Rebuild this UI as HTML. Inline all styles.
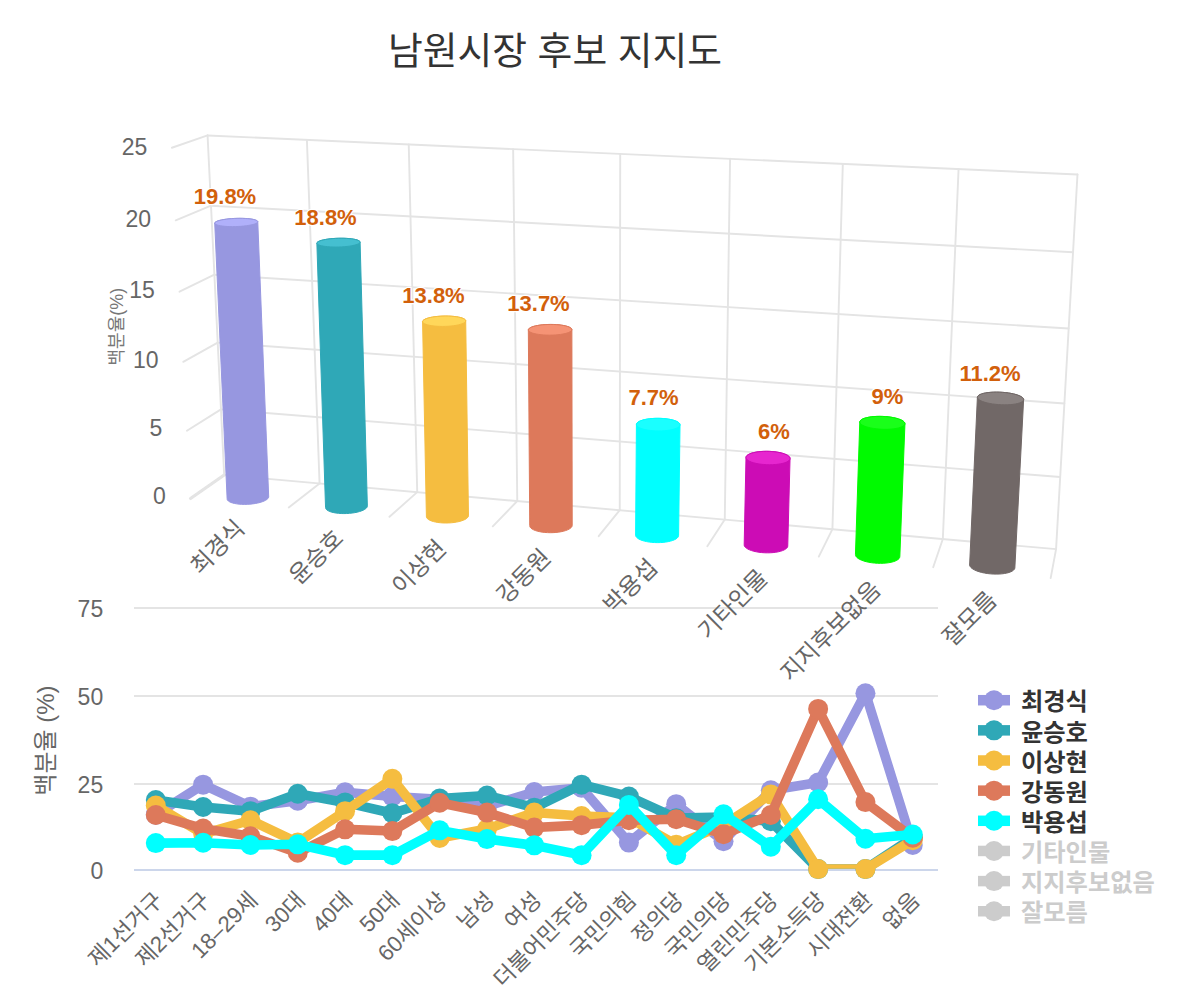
<!DOCTYPE html>
<html><head><meta charset="utf-8"><title>남원시장 후보 지지도</title>
<style>html,body{margin:0;padding:0;background:#fff;font-family:"Liberation Sans",sans-serif}svg{display:block}svg text{font-family:"Liberation Sans","Noto Sans CJK KR",sans-serif}</style>
</head><body>
<svg width="1200" height="1000" viewBox="0 0 1200 1000">
<rect width="1200" height="1000" fill="#fff"/>
<text x="555" y="63.5" font-size="37.8" fill="#333" text-anchor="middle">남원시장 후보 지지도</text>
<path d="M134 608H938" stroke="#e4e4e4" stroke-width="2"/>
<path d="M134 696H938" stroke="#e4e4e4" stroke-width="2"/>
<path d="M134 784H938" stroke="#e4e4e4" stroke-width="2"/>
<path d="M134 870H938" stroke="#ccd6eb" stroke-width="2"/>
<g>
<path d="M207.57 135.46L1077.48 174.43" stroke="#e4e4e4" stroke-width="1.9" fill="none" stroke-linecap="round"/>
<path d="M171.88 147.75L207.57 135.46" stroke="#e4e4e4" stroke-width="1.9" fill="none" stroke-linecap="round"/>
<path d="M211 205.68L1073.02 252.23" stroke="#e4e4e4" stroke-width="1.9" fill="none" stroke-linecap="round"/>
<path d="M175.74 220.37L211 205.68" stroke="#e4e4e4" stroke-width="1.9" fill="none" stroke-linecap="round"/>
<path d="M214.38 274.71L1068.65 328.56" stroke="#e4e4e4" stroke-width="1.9" fill="none" stroke-linecap="round"/>
<path d="M179.53 291.72L214.38 274.71" stroke="#e4e4e4" stroke-width="1.9" fill="none" stroke-linecap="round"/>
<path d="M217.7 342.58L1064.38 403.47" stroke="#e4e4e4" stroke-width="1.9" fill="none" stroke-linecap="round"/>
<path d="M183.26 361.83L217.7 342.58" stroke="#e4e4e4" stroke-width="1.9" fill="none" stroke-linecap="round"/>
<path d="M220.97 409.33L1060.19 476.99" stroke="#e4e4e4" stroke-width="1.9" fill="none" stroke-linecap="round"/>
<path d="M186.92 430.73L220.97 409.33" stroke="#e4e4e4" stroke-width="1.9" fill="none" stroke-linecap="round"/>
<path d="M224.19 474.97L1056.07 549.17" stroke="#e4e4e4" stroke-width="1.9" fill="none" stroke-linecap="round"/>
<path d="M190.52 498.45L224.19 474.97" stroke="#e4e4e4" stroke-width="3.2" fill="none" stroke-linecap="round"/>
<path d="M207.57 135.46L224.19 474.97" stroke="#e4e4e4" stroke-width="1.9" fill="none" stroke-linecap="round"/>
<path d="M224.19 474.97L190.52 498.45" stroke="#e4e4e4" stroke-width="1.9" fill="none" stroke-linecap="round"/>
<path d="M306.9 139.89L319.57 483.43" stroke="#e4e4e4" stroke-width="1.9" fill="none" stroke-linecap="round"/>
<path d="M319.57 483.43L288.73 507.51" stroke="#e4e4e4" stroke-width="1.9" fill="none" stroke-linecap="round"/>
<path d="M408.73 144.43L417.23 492.11" stroke="#e4e4e4" stroke-width="1.9" fill="none" stroke-linecap="round"/>
<path d="M417.23 492.11L389.49 516.82" stroke="#e4e4e4" stroke-width="1.9" fill="none" stroke-linecap="round"/>
<path d="M513.14 149.1L517.27 501.02" stroke="#e4e4e4" stroke-width="1.9" fill="none" stroke-linecap="round"/>
<path d="M517.27 501.02L492.78 526.36" stroke="#e4e4e4" stroke-width="1.9" fill="none" stroke-linecap="round"/>
<path d="M620.22 153.89L619.75 510.15" stroke="#e4e4e4" stroke-width="1.9" fill="none" stroke-linecap="round"/>
<path d="M619.75 510.15L598.69 536.17" stroke="#e4e4e4" stroke-width="1.9" fill="none" stroke-linecap="round"/>
<path d="M730.07 158.82L724.77 519.52" stroke="#e4e4e4" stroke-width="1.9" fill="none" stroke-linecap="round"/>
<path d="M724.77 519.52L707.32 546.24" stroke="#e4e4e4" stroke-width="1.9" fill="none" stroke-linecap="round"/>
<path d="M842.82 163.88L832.43 529.14" stroke="#e4e4e4" stroke-width="1.9" fill="none" stroke-linecap="round"/>
<path d="M832.43 529.14L818.79 556.59" stroke="#e4e4e4" stroke-width="1.9" fill="none" stroke-linecap="round"/>
<path d="M958.57 169.08L942.83 539.02" stroke="#e4e4e4" stroke-width="1.9" fill="none" stroke-linecap="round"/>
<path d="M942.83 539.02L933.2 567.22" stroke="#e4e4e4" stroke-width="1.9" fill="none" stroke-linecap="round"/>
<path d="M1077.48 174.43L1056.07 549.17" stroke="#e4e4e4" stroke-width="1.9" fill="none" stroke-linecap="round"/>
<path d="M1056.07 549.17L1050.67 578.16" stroke="#e4e4e4" stroke-width="1.9" fill="none" stroke-linecap="round"/>
</g>
<text x="147.28" y="154.65" font-size="23" fill="#666" text-anchor="end">25</text>
<text x="151.14" y="226.93" font-size="23" fill="#666" text-anchor="end">20</text>
<text x="154.93" y="297.94" font-size="23" fill="#666" text-anchor="end">15</text>
<text x="158.66" y="367.71" font-size="23" fill="#666" text-anchor="end">10</text>
<text x="162.32" y="436.27" font-size="23" fill="#666" text-anchor="end">5</text>
<text x="165.92" y="503.65" font-size="23" fill="#666" text-anchor="end">0</text>
<text transform="translate(123.4 326.6) rotate(-90)" font-size="18" fill="#777" text-anchor="middle">백분율(%)</text>
<path d="M257.77 221.91L268.69 496.89L268.44 497.75L267.84 498.61L266.89 499.46L265.62 500.28L264.04 501.06L262.18 501.78L260.07 502.44L257.75 503.02L255.26 503.5L252.63 503.89L249.92 504.17L247.18 504.34L244.45 504.39L241.77 504.33L239.21 504.16L236.8 503.87L234.58 503.48L232.59 502.99L230.88 502.41L229.45 501.75L228.35 501.03L227.59 500.24L227.18 499.42L227.12 498.57L214.71 222.97L215.04 222.43L215.73 221.88L216.77 221.35L218.14 220.84L219.81 220.36L221.77 219.92L223.96 219.51L226.36 219.16L228.92 218.87L231.61 218.63L234.37 218.46L237.16 218.36L239.93 218.32L242.65 218.36L245.25 218.47L247.71 218.64L249.97 218.88L252.01 219.18L253.78 219.53L255.25 219.93L256.41 220.38L257.22 220.87L257.68 221.38Z" fill="#9797e0" stroke="#9797e0" stroke-width="1" stroke-linejoin="round"/>
<path d="M255.87 223.53L256.86 222.99L257.5 222.45L257.77 221.91L257.68 221.38L257.22 220.87L256.41 220.38L255.25 219.93L253.78 219.53L252.01 219.18L249.97 218.88L247.71 218.64L245.25 218.47L242.65 218.36L239.93 218.32L237.16 218.36L234.37 218.46L231.61 218.63L228.92 218.87L226.36 219.16L223.96 219.51L221.77 219.92L219.81 220.36L218.14 220.84L216.77 221.35L215.73 221.88L215.04 222.43L214.71 222.97L214.75 223.5L215.16 224.02L215.93 224.51L217.06 224.97L218.52 225.39L220.29 225.75L222.33 226.06L224.62 226.31L227.11 226.49L229.77 226.6L232.53 226.63L235.36 226.6L238.21 226.49L241.02 226.32L243.74 226.07L246.34 225.77L248.75 225.4L250.95 224.99L252.88 224.54L254.53 224.05Z" fill="#b0b0fa" stroke="#9797e0" stroke-width="1"/>
<path d="M325.55 507.61L316.86 243.16L317.06 242.59L317.63 242.02L318.55 241.45L319.81 240.91L321.38 240.4L323.25 239.93L325.37 239.5L327.7 239.13L330.22 238.82L332.88 238.57L335.62 238.39L338.42 238.28L341.21 238.24L343.96 238.28L346.62 238.4L349.14 238.58L351.49 238.83L353.61 239.15L355.49 239.52L357.08 239.95L358.35 240.42L359.29 240.94L359.88 241.48L360.1 242.04L367.36 505.88L367.23 506.76L366.74 507.65L365.91 508.52L364.74 509.36L363.25 510.16L361.47 510.9L359.43 511.58L357.17 512.17L354.71 512.67L352.11 513.06L349.41 513.35L346.66 513.52L343.9 513.58L341.19 513.52L338.57 513.34L336.09 513.05L333.79 512.64L331.71 512.14L329.89 511.55L328.36 510.87L327.14 510.13L326.26 509.32L325.73 508.48Z" fill="#2fa8b7" stroke="#2fa8b7" stroke-width="1" stroke-linejoin="round"/>
<path d="M358.57 243.76L359.44 243.19L359.96 242.61L360.1 242.04L359.88 241.48L359.29 240.94L358.35 240.42L357.08 239.95L355.49 239.52L353.61 239.15L351.49 238.83L349.14 238.58L346.62 238.4L343.96 238.28L341.21 238.24L338.42 238.28L335.62 238.39L332.88 238.57L330.22 238.82L327.7 239.13L325.37 239.5L323.25 239.93L321.38 240.4L319.81 240.91L318.55 241.45L317.63 242.02L317.06 242.59L316.86 243.16L317.03 243.73L317.57 244.28L318.47 244.8L319.72 245.29L321.29 245.72L323.16 246.11L325.31 246.44L327.68 246.7L330.24 246.89L332.95 247L335.75 247.04L338.6 247.01L341.45 246.9L344.25 246.71L346.94 246.45L349.48 246.13L351.84 245.74L353.95 245.31L355.8 244.82L357.35 244.3Z" fill="#45bfd0" stroke="#2fa8b7" stroke-width="1"/>
<path d="M426.41 516.88L422.59 321.85L422.66 321.17L423.09 320.5L423.88 319.83L425.02 319.19L426.48 318.59L428.23 318.03L430.26 317.53L432.51 317.09L434.97 316.72L437.57 316.43L440.28 316.21L443.06 316.09L445.86 316.04L448.62 316.09L451.31 316.22L453.89 316.44L456.3 316.74L458.51 317.11L460.47 317.55L462.17 318.06L463.56 318.62L464.62 319.22L465.34 319.86L465.7 320.53L468.46 515.11L468.46 516.01L468.09 516.92L467.37 517.81L466.31 518.68L464.92 519.5L463.23 520.26L461.26 520.95L459.05 521.56L456.64 522.07L454.07 522.48L451.38 522.77L448.62 522.95L445.84 523.01L443.08 522.94L440.41 522.76L437.86 522.46L435.47 522.05L433.3 521.53L431.37 520.92L429.72 520.23L428.39 519.46L427.38 518.64L426.72 517.77Z" fill="#f5bd40" stroke="#f5bd40" stroke-width="1" stroke-linejoin="round"/>
<path d="M464.57 322.55L465.31 321.88L465.69 321.2L465.7 320.53L465.34 319.86L464.62 319.22L463.56 318.62L462.17 318.06L460.47 317.55L458.51 317.11L456.3 316.74L453.89 316.44L451.31 316.22L448.62 316.09L445.86 316.04L443.06 316.09L440.28 316.21L437.57 316.43L434.97 316.72L432.51 317.09L430.26 317.53L428.23 318.03L426.48 318.59L425.02 319.19L423.88 319.83L423.09 320.5L422.66 321.17L422.59 321.85L422.9 322.52L423.57 323.17L424.6 323.79L425.97 324.36L427.65 324.88L429.62 325.33L431.85 325.72L434.29 326.03L436.9 326.25L439.64 326.39L442.47 326.44L445.32 326.39L448.15 326.26L450.91 326.04L453.55 325.73L456.02 325.35L458.29 324.9L460.31 324.38L462.05 323.81L463.48 323.2Z" fill="#ffd75a" stroke="#f5bd40" stroke-width="1"/>
<path d="M571.88 329.76L572.21 525.51L571.98 526.44L571.38 527.36L570.43 528.24L569.15 529.09L567.54 529.87L565.65 530.58L563.51 531.2L561.14 531.72L558.6 532.14L555.92 532.45L553.15 532.63L550.34 532.69L547.55 532.62L544.81 532.43L542.19 532.13L539.72 531.7L537.44 531.17L535.4 530.55L533.64 529.83L532.17 529.05L531.03 528.2L530.24 527.31L529.8 526.39L529.73 525.46L528.33 329.73L528.63 329.03L529.3 328.35L530.32 327.69L531.67 327.07L533.33 326.49L535.28 325.98L537.47 325.52L539.88 325.14L542.45 324.84L545.15 324.62L547.94 324.49L550.76 324.45L553.57 324.49L556.32 324.63L558.97 324.85L561.47 325.16L563.78 325.54L565.86 326L567.68 326.52L569.2 327.1L570.4 327.72L571.26 328.38L571.76 329.06Z" fill="#dd795b" stroke="#dd795b" stroke-width="1" stroke-linejoin="round"/>
<path d="M571.03 331.15L571.64 330.46L571.88 329.76L571.76 329.06L571.26 328.38L570.4 327.72L569.2 327.1L567.68 326.52L565.86 326L563.78 325.54L561.47 325.16L558.97 324.85L556.32 324.63L553.57 324.49L550.76 324.45L547.94 324.49L545.15 324.62L542.45 324.84L539.88 325.14L537.47 325.52L535.28 325.98L533.33 326.49L531.67 327.07L530.32 327.69L529.3 328.35L528.63 329.03L528.33 329.73L528.41 330.43L528.85 331.12L529.66 331.78L530.83 332.42L532.33 333.01L534.14 333.54L536.23 334.01L538.56 334.41L541.09 334.73L543.78 334.96L546.59 335.1L549.45 335.15L552.33 335.1L555.17 334.97L557.91 334.74L560.52 334.43L562.95 334.03L565.15 333.57L567.09 333.03L568.73 332.45L570.05 331.81Z" fill="#f59375" stroke="#dd795b" stroke-width="1"/>
<path d="M635.6 535.21L636.41 424.55L636.57 423.73L637.1 422.92L637.99 422.15L639.21 421.41L640.76 420.74L642.61 420.12L644.71 419.59L647.04 419.14L649.56 418.78L652.22 418.53L654.98 418.37L657.79 418.32L660.61 418.37L663.4 418.54L666.09 418.8L668.66 419.16L671.05 419.61L673.23 420.15L675.15 420.77L676.79 421.45L678.12 422.18L679.11 422.96L679.75 423.77L680.02 424.59L678.6 535.25L678.49 536.21L678.03 537.15L677.2 538.06L676.02 538.93L674.51 539.73L672.71 540.46L670.62 541.1L668.31 541.64L665.79 542.07L663.13 542.38L660.35 542.57L657.52 542.63L654.68 542.56L651.89 542.37L649.19 542.05L646.62 541.62L644.24 541.07L642.09 540.43L640.19 539.7L638.59 538.89L637.32 538.02L636.38 537.11L635.81 536.16Z" fill="#00ffff" stroke="#00ffff" stroke-width="1" stroke-linejoin="round"/>
<path d="M679.45 426.23L679.92 425.42L680.02 424.59L679.75 423.77L679.11 422.96L678.12 422.18L676.79 421.45L675.15 420.77L673.23 420.15L671.05 419.61L668.66 419.16L666.09 418.8L663.4 418.54L660.61 418.37L657.79 418.32L654.98 418.37L652.22 418.53L649.56 418.78L647.04 419.14L644.71 419.59L642.61 420.12L640.76 420.74L639.21 421.41L637.99 422.15L637.1 422.92L636.57 423.73L636.41 424.55L636.63 425.38L637.21 426.19L638.16 426.98L639.46 427.73L641.08 428.43L643 429.06L645.19 429.61L647.6 430.08L650.2 430.45L652.94 430.73L655.78 430.89L658.66 430.95L661.53 430.9L664.34 430.74L667.05 430.47L669.6 430.1L671.95 429.63L674.06 429.08L675.89 428.46L677.42 427.76L678.61 427.02Z" fill="#1affff" stroke="#00ffff" stroke-width="1"/>
<path d="M790.04 458.86L787.74 546.25L787.41 547.21L786.71 548.15L785.65 549.04L784.24 549.87L782.52 550.61L780.51 551.27L778.24 551.82L775.76 552.26L773.11 552.58L770.33 552.78L767.47 552.84L764.59 552.77L761.73 552.57L758.95 552.25L756.29 551.8L753.8 551.24L751.52 550.58L749.5 549.83L747.76 549L746.34 548.11L745.26 547.17L744.53 546.2L744.18 545.22L744.19 544.24L746 457.07L746.39 456.21L747.15 455.38L748.26 454.6L749.7 453.88L751.46 453.23L753.48 452.66L755.76 452.18L758.23 451.8L760.87 451.53L763.63 451.36L766.46 451.31L769.32 451.37L772.15 451.54L774.92 451.82L777.57 452.2L780.06 452.68L782.36 453.26L784.41 453.91L786.19 454.64L787.66 455.42L788.79 456.25L789.58 457.11L790 457.98Z" fill="#cc0cb5" stroke="#cc0cb5" stroke-width="1" stroke-linejoin="round"/>
<path d="M789.71 459.73L790.04 458.86L790 457.98L789.58 457.11L788.79 456.25L787.66 455.42L786.19 454.64L784.41 453.91L782.36 453.26L780.06 452.68L777.57 452.2L774.92 451.82L772.15 451.54L769.32 451.37L766.46 451.31L763.63 451.36L760.87 451.53L758.23 451.8L755.76 452.18L753.48 452.66L751.46 453.23L749.7 453.88L748.26 454.6L747.15 455.38L746.39 456.21L746 457.07L745.99 457.94L746.35 458.82L747.08 459.69L748.18 460.52L749.62 461.32L751.38 462.06L753.43 462.73L755.73 463.32L758.25 463.82L760.94 464.22L763.76 464.51L766.65 464.69L769.56 464.75L772.45 464.7L775.26 464.52L777.94 464.24L780.45 463.84L782.74 463.35L784.77 462.76L786.51 462.09L787.93 461.36L789 460.56Z" fill="#e626cf" stroke="#cc0cb5" stroke-width="1"/>
<path d="M904.95 423.66L899.83 556.56L899.64 557.55L899.07 558.52L898.13 559.43L896.83 560.28L895.2 561.05L893.27 561.72L891.06 562.29L888.61 562.74L885.98 563.07L883.19 563.27L880.31 563.33L877.38 563.26L874.46 563.06L871.59 562.73L868.83 562.27L866.22 561.69L863.82 561.01L861.66 560.24L859.77 559.39L858.2 558.47L856.96 557.51L856.09 556.51L855.58 555.5L855.45 554.49L859.79 421.93L860.04 421.1L860.67 420.3L861.66 419.55L863 418.85L864.67 418.23L866.64 417.68L868.87 417.22L871.32 416.85L873.96 416.58L876.74 416.42L879.61 416.37L882.53 416.43L885.44 416.59L888.31 416.86L891.08 417.23L893.7 417.7L896.13 418.25L898.34 418.88L900.27 419.58L901.91 420.34L903.21 421.14L904.17 421.97L904.75 422.81Z" fill="#00fa00" stroke="#00fa00" stroke-width="1" stroke-linejoin="round"/>
<path d="M904.76 424.5L904.95 423.66L904.75 422.81L904.17 421.97L903.21 421.14L901.91 420.34L900.27 419.58L898.34 418.88L896.13 418.25L893.7 417.7L891.08 417.23L888.31 416.86L885.44 416.59L882.53 416.43L879.61 416.37L876.74 416.42L873.96 416.58L871.32 416.85L868.87 417.22L866.64 417.68L864.67 418.23L863 418.85L861.66 419.55L860.67 420.3L860.04 421.1L859.79 421.93L859.93 422.78L860.46 423.62L861.36 424.46L862.62 425.27L864.22 426.04L866.14 426.75L868.35 427.4L870.8 427.97L873.45 428.45L876.26 428.84L879.18 429.12L882.15 429.29L885.13 429.35L888.06 429.3L890.9 429.13L893.58 428.85L896.06 428.47L898.3 428L900.27 427.43L901.92 426.79L903.23 426.07L904.19 425.31Z" fill="#1aff1a" stroke="#00fa00" stroke-width="1"/>
<path d="M1023.63 399.24L1023.6 400.06L1014.83 568.18L1014.4 569.17L1013.59 570.11L1012.41 570.98L1010.87 571.77L1009.02 572.47L1006.87 573.05L1004.46 573.52L1001.84 573.85L999.05 574.06L996.14 574.12L993.17 574.05L990.17 573.84L987.22 573.5L984.36 573.03L981.63 572.44L979.09 571.74L976.78 570.94L974.75 570.07L973.02 569.12L971.62 568.13L970.57 567.11L969.91 566.07L969.62 565.03L977.39 397.55L977.48 396.74L977.96 395.96L978.83 395.22L980.06 394.54L981.64 393.92L983.53 393.39L985.71 392.93L988.13 392.58L990.76 392.32L993.56 392.16L996.47 392.11L999.45 392.16L1002.44 392.33L1005.41 392.59L1008.29 392.95L1011.05 393.41L1013.63 393.95L1015.99 394.57L1018.09 395.25L1019.9 395.99L1021.38 396.77L1022.51 397.58L1023.27 398.41Z" fill="#716867" stroke="#716867" stroke-width="1" stroke-linejoin="round"/>
<path d="M1023.6 400.06L1023.63 399.24L1023.27 398.41L1022.51 397.58L1021.38 396.77L1019.9 395.99L1018.09 395.25L1015.99 394.57L1013.63 393.95L1011.05 393.41L1008.29 392.95L1005.41 392.59L1002.44 392.33L999.45 392.16L996.47 392.11L993.56 392.16L990.76 392.32L988.13 392.58L985.71 392.93L983.53 393.39L981.64 393.92L980.06 394.54L978.83 395.22L977.96 395.96L977.48 396.74L977.39 397.55L977.69 398.37L978.38 399.2L979.46 400.02L980.9 400.82L982.68 401.57L984.77 402.27L987.13 402.9L989.73 403.46L992.52 403.93L995.46 404.31L998.48 404.59L1001.54 404.75L1004.58 404.81L1007.55 404.76L1010.39 404.6L1013.07 404.33L1015.52 403.95L1017.71 403.49L1019.6 402.93L1021.16 402.3L1022.35 401.6L1023.17 400.85Z" fill="#8a8281" stroke="#716867" stroke-width="1"/>
<g font-size="22" font-weight="bold" fill="#d2600b" stroke="#fff" stroke-width="2.4" stroke-linejoin="round" paint-order="stroke" text-anchor="middle">
<text x="225" y="204">19.8%</text>
<text x="325.5" y="225">18.8%</text>
<text x="433.5" y="303">13.8%</text>
<text x="538.5" y="311">13.7%</text>
<text x="653.5" y="405">7.7%</text>
<text x="774" y="439">6%</text>
<text x="887.5" y="404">9%</text>
<text x="990" y="381">11.2%</text>
</g>
<g font-size="23.5" fill="#666" text-anchor="end">
<text transform="translate(246 530) rotate(-45)">최경식</text>
<text transform="translate(344.8 540) rotate(-45)">윤승호</text>
<text transform="translate(447.6 550) rotate(-45)">이상현</text>
<text transform="translate(552.4 559) rotate(-45)">강동원</text>
<text transform="translate(659 569) rotate(-45)">박용섭</text>
<text transform="translate(769.1 579.5) rotate(-45)">기타인물</text>
<text transform="translate(882.2 591) rotate(-45)">지지후보없음</text>
<text transform="translate(998.2 601.5) rotate(-45)">잘모름</text>
</g>
<text x="103.2" y="616.9" font-size="23" fill="#666" text-anchor="end">75</text>
<text x="103.2" y="704.9" font-size="23" fill="#666" text-anchor="end">50</text>
<text x="103.2" y="792.9" font-size="23" fill="#666" text-anchor="end">25</text>
<text x="103.2" y="878.9" font-size="23" fill="#666" text-anchor="end">0</text>
<text transform="translate(53.5 740.55) rotate(-90)" font-size="24" fill="#666" text-anchor="middle">백분율 (%)</text>
<clipPath id="pc"><rect x="130" y="600" width="812" height="268.8"/></clipPath>
<path d="M155.8 814.66L203.11 784.64L250.42 806.63L297.73 800.7L345.04 792.32L392.35 796.51L439.66 799.3L486.97 806.28L534.28 791.97L581.59 787.78L628.9 842.58L676.21 804.19L723.52 841.18L770.83 790.23L818.14 782.55L865.45 693.2L912.76 845.02" fill="none" stroke="#9797e0" stroke-width="9.6" stroke-linejoin="round" stroke-linecap="round" clip-path="url(#pc)"/>
<g fill="#9797e0"><circle cx="155.8" cy="814.66" r="10"/><circle cx="203.11" cy="784.64" r="10"/><circle cx="250.42" cy="806.63" r="10"/><circle cx="297.73" cy="800.7" r="10"/><circle cx="345.04" cy="792.32" r="10"/><circle cx="392.35" cy="796.51" r="10"/><circle cx="439.66" cy="799.3" r="10"/><circle cx="486.97" cy="806.28" r="10"/><circle cx="534.28" cy="791.97" r="10"/><circle cx="581.59" cy="787.78" r="10"/><circle cx="628.9" cy="842.58" r="10"/><circle cx="676.21" cy="804.19" r="10"/><circle cx="723.52" cy="841.18" r="10"/><circle cx="770.83" cy="790.23" r="10"/><circle cx="818.14" cy="782.55" r="10"/><circle cx="865.45" cy="693.2" r="10"/><circle cx="912.76" cy="845.02" r="10"/></g>
<path d="M155.8 800L203.11 806.98L250.42 811.17L297.73 793.72L345.04 802.44L392.35 813.26L439.66 798.6L486.97 795.46L534.28 807.68L581.59 784.64L628.9 796.51L676.21 818.15L723.52 817.1L770.83 821.29L818.14 869.1L865.45 869.1L912.76 837.69" fill="none" stroke="#2fa8b7" stroke-width="9.6" stroke-linejoin="round" stroke-linecap="round" clip-path="url(#pc)"/>
<g fill="#2fa8b7"><circle cx="155.8" cy="800" r="10"/><circle cx="203.11" cy="806.98" r="10"/><circle cx="250.42" cy="811.17" r="10"/><circle cx="297.73" cy="793.72" r="10"/><circle cx="345.04" cy="802.44" r="10"/><circle cx="392.35" cy="813.26" r="10"/><circle cx="439.66" cy="798.6" r="10"/><circle cx="486.97" cy="795.46" r="10"/><circle cx="534.28" cy="807.68" r="10"/><circle cx="581.59" cy="784.64" r="10"/><circle cx="628.9" cy="796.51" r="10"/><circle cx="676.21" cy="818.15" r="10"/><circle cx="723.52" cy="817.1" r="10"/><circle cx="770.83" cy="821.29" r="10"/><circle cx="818.14" cy="869.1" r="10"/><circle cx="865.45" cy="869.1" r="10"/><circle cx="912.76" cy="837.69" r="10"/></g>
<path d="M155.8 805.58L203.11 833.85L250.42 820.24L297.73 842.58L345.04 811.17L392.35 778.71L439.66 838.04L486.97 828.97L534.28 812.56L581.59 816.05L628.9 817.8L676.21 844.67L723.52 825.13L770.83 794.41L818.14 869.1L865.45 869.1L912.76 840.13" fill="none" stroke="#f5bd40" stroke-width="9.6" stroke-linejoin="round" stroke-linecap="round" clip-path="url(#pc)"/>
<g fill="#f5bd40"><circle cx="155.8" cy="805.58" r="10"/><circle cx="203.11" cy="833.85" r="10"/><circle cx="250.42" cy="820.24" r="10"/><circle cx="297.73" cy="842.58" r="10"/><circle cx="345.04" cy="811.17" r="10"/><circle cx="392.35" cy="778.71" r="10"/><circle cx="439.66" cy="838.04" r="10"/><circle cx="486.97" cy="828.97" r="10"/><circle cx="534.28" cy="812.56" r="10"/><circle cx="581.59" cy="816.05" r="10"/><circle cx="628.9" cy="817.8" r="10"/><circle cx="676.21" cy="844.67" r="10"/><circle cx="723.52" cy="825.13" r="10"/><circle cx="770.83" cy="794.41" r="10"/><circle cx="818.14" cy="869.1" r="10"/><circle cx="865.45" cy="869.1" r="10"/><circle cx="912.76" cy="840.13" r="10"/></g>
<path d="M155.8 815L203.11 828.62L250.42 836.29L297.73 852.7L345.04 829.31L392.35 831.06L439.66 802.79L486.97 812.56L534.28 827.57L581.59 825.13L628.9 820.24L676.21 819.19L723.52 834.2L770.83 815L818.14 708.91L865.45 802.09L912.76 837.69" fill="none" stroke="#dd795b" stroke-width="9.6" stroke-linejoin="round" stroke-linecap="round" clip-path="url(#pc)"/>
<g fill="#dd795b"><circle cx="155.8" cy="815" r="10"/><circle cx="203.11" cy="828.62" r="10"/><circle cx="250.42" cy="836.29" r="10"/><circle cx="297.73" cy="852.7" r="10"/><circle cx="345.04" cy="829.31" r="10"/><circle cx="392.35" cy="831.06" r="10"/><circle cx="439.66" cy="802.79" r="10"/><circle cx="486.97" cy="812.56" r="10"/><circle cx="534.28" cy="827.57" r="10"/><circle cx="581.59" cy="825.13" r="10"/><circle cx="628.9" cy="820.24" r="10"/><circle cx="676.21" cy="819.19" r="10"/><circle cx="723.52" cy="834.2" r="10"/><circle cx="770.83" cy="815" r="10"/><circle cx="818.14" cy="708.91" r="10"/><circle cx="865.45" cy="802.09" r="10"/><circle cx="912.76" cy="837.69" r="10"/></g>
<path d="M155.8 843.1L203.11 842.75L250.42 845.02L297.73 844.32L345.04 855.14L392.35 855.14L439.66 830.36L486.97 839.09L534.28 845.37L581.59 855.14L628.9 804.88L676.21 855.14L723.52 814.31L770.83 846.76L818.14 799.3L865.45 838.74L912.76 834.55" fill="none" stroke="#00ffff" stroke-width="9.6" stroke-linejoin="round" stroke-linecap="round" clip-path="url(#pc)"/>
<g fill="#00ffff"><circle cx="155.8" cy="843.1" r="10"/><circle cx="203.11" cy="842.75" r="10"/><circle cx="250.42" cy="845.02" r="10"/><circle cx="297.73" cy="844.32" r="10"/><circle cx="345.04" cy="855.14" r="10"/><circle cx="392.35" cy="855.14" r="10"/><circle cx="439.66" cy="830.36" r="10"/><circle cx="486.97" cy="839.09" r="10"/><circle cx="534.28" cy="845.37" r="10"/><circle cx="581.59" cy="855.14" r="10"/><circle cx="628.9" cy="804.88" r="10"/><circle cx="676.21" cy="855.14" r="10"/><circle cx="723.52" cy="814.31" r="10"/><circle cx="770.83" cy="846.76" r="10"/><circle cx="818.14" cy="799.3" r="10"/><circle cx="865.45" cy="838.74" r="10"/><circle cx="912.76" cy="834.55" r="10"/></g>
<g font-size="22.3" fill="#666" text-anchor="end">
<text transform="translate(164.3 901.5) rotate(-45)">제1선거구</text>
<text transform="translate(211.61 901.5) rotate(-45)">제2선거구</text>
<text transform="translate(258.92 901.5) rotate(-45)">18–29세</text>
<text transform="translate(306.23 901.5) rotate(-45)">30대</text>
<text transform="translate(353.54 901.5) rotate(-45)">40대</text>
<text transform="translate(400.85 901.5) rotate(-45)">50대</text>
<text transform="translate(448.16 901.5) rotate(-45)">60세이상</text>
<text transform="translate(495.47 901.5) rotate(-45)">남성</text>
<text transform="translate(542.78 901.5) rotate(-45)">여성</text>
<text transform="translate(590.09 901.5) rotate(-45)">더불어민주당</text>
<text transform="translate(637.4 901.5) rotate(-45)">국민의힘</text>
<text transform="translate(684.71 901.5) rotate(-45)">정의당</text>
<text transform="translate(732.02 901.5) rotate(-45)">국민의당</text>
<text transform="translate(779.33 901.5) rotate(-45)">열린민주당</text>
<text transform="translate(826.64 901.5) rotate(-45)">기본소득당</text>
<text transform="translate(873.95 901.5) rotate(-45)">시대전환</text>
<text transform="translate(921.26 901.5) rotate(-45)">없음</text>
</g>
<path d="M978 700.2H1010" stroke="#9797e0" stroke-width="10.5"/><circle cx="994" cy="700.2" r="10" fill="#9797e0"/>
<text x="1021" y="710.4" font-size="24.25" font-weight="bold" fill="#333">최경식</text>
<path d="M978 730.35H1010" stroke="#2fa8b7" stroke-width="10.5"/><circle cx="994" cy="730.35" r="10" fill="#2fa8b7"/>
<text x="1021" y="740.55" font-size="24.25" font-weight="bold" fill="#333">윤승호</text>
<path d="M978 760.5H1010" stroke="#f5bd40" stroke-width="10.5"/><circle cx="994" cy="760.5" r="10" fill="#f5bd40"/>
<text x="1021" y="770.7" font-size="24.25" font-weight="bold" fill="#333">이상현</text>
<path d="M978 790.65H1010" stroke="#dd795b" stroke-width="10.5"/><circle cx="994" cy="790.65" r="10" fill="#dd795b"/>
<text x="1021" y="800.85" font-size="24.25" font-weight="bold" fill="#333">강동원</text>
<path d="M978 820.8H1010" stroke="#00ffff" stroke-width="10.5"/><circle cx="994" cy="820.8" r="10" fill="#00ffff"/>
<text x="1021" y="831" font-size="24.25" font-weight="bold" fill="#333">박용섭</text>
<path d="M978 850.95H1010" stroke="#ccc" stroke-width="10.5"/><circle cx="994" cy="850.95" r="10" fill="#ccc"/>
<text x="1021" y="861.15" font-size="24.25" font-weight="bold" fill="#ccc">기타인물</text>
<path d="M978 881.1H1010" stroke="#ccc" stroke-width="10.5"/><circle cx="994" cy="881.1" r="10" fill="#ccc"/>
<text x="1021" y="891.3" font-size="24.25" font-weight="bold" fill="#ccc">지지후보없음</text>
<path d="M978 911.25H1010" stroke="#ccc" stroke-width="10.5"/><circle cx="994" cy="911.25" r="10" fill="#ccc"/>
<text x="1021" y="921.45" font-size="24.25" font-weight="bold" fill="#ccc">잘모름</text>
</svg></body></html>
